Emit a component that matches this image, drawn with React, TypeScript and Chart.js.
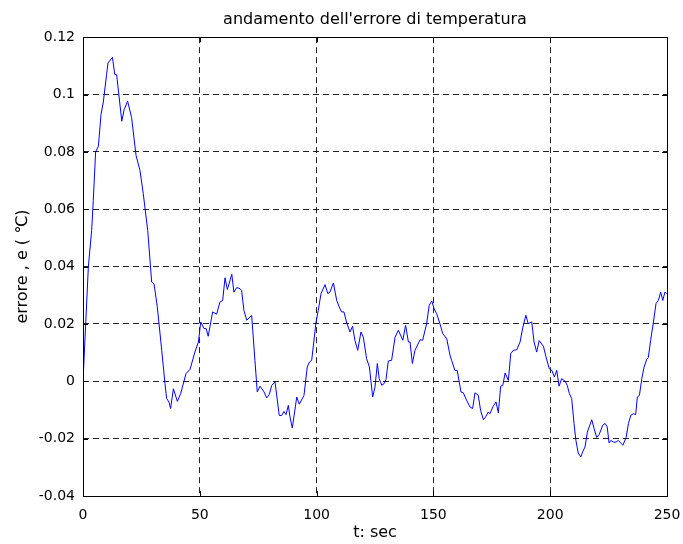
import React, { useEffect, useRef } from "react";
import { Chart, registerables } from "chart.js";

Chart.register(...registerables);

const titleText = "andamento dell'errore di temperatura";
const xTitle = "t: sec";
const yTitle = "errore , e ( ℃)";

const tValues = [
  0, 2.3, 3.7, 4.4, 5.4, 6.6, 7.7, 8.7, 10.1, 10.7, 12.6, 13.6, 14.4, 16.6, 17.6, 19.1, 20.8, 22.7, 24.4, 25.8,
  27.7, 29.4, 30.4, 31.8, 33.7, 35.1, 35.8, 36.8, 37.5, 38.7, 40.4, 41.8, 44.1, 45.8, 47.9, 49.4, 50.4, 51.8,
  52.7, 53.6, 55.5, 57.2, 58.6, 59.8, 60.8, 61.8, 63.7, 64.6, 65.8, 67.2, 67.9, 68.9, 70.1, 72.2, 73.6, 74.6,
  75.8, 77.5, 78.6, 79.8, 80.8, 82.2, 84.0, 85.1, 86.0, 86.9, 87.9, 88.6, 89.6, 91.5, 92.6, 94.6, 96.0, 96.9,
  97.9, 99.7, 100.7, 101.9, 103.6, 104.8, 105.7, 107.2, 108.6, 109.7, 110.7, 111.7, 112.9, 114.3, 115.4, 116.4,
  117.6, 119.0, 120.0, 121.4, 122.6, 124.0, 125.0, 126.0, 126.8, 127.9, 128.9, 129.7, 130.7, 132.1, 133.6, 135.0,
  136.9, 138.1, 139.3, 140.0, 141.0, 142.1, 144.3, 145.4, 147.1, 148.2, 149.3, 150.3, 151.4, 152.8, 154.0, 155.7,
  157.1, 157.8, 159.2, 160.2, 161.8, 162.8, 164.2, 165.7, 166.8, 167.8, 169.2, 170.2, 171.4, 172.5, 173.5, 174.2,
  175.6, 176.8, 177.8, 178.8, 179.7, 180.7, 182.1, 183.1, 184.2, 185.7, 187.1, 188.3, 189.6, 190.6, 192.1, 193.1,
  194.2, 195.3, 197.1, 198.2, 199.6, 200.7, 201.8, 202.8, 203.8, 204.9, 206.3, 207.3, 208.2, 209.2, 210.2, 211.0,
  212.0, 213.1, 213.9, 214.9, 215.9, 216.7, 217.8, 218.8, 219.9, 221.0, 222.5, 223.5, 224.4, 225.2, 226.0, 227.0,
  228.2, 229.2, 230.2, 231.1, 232.5, 233.5, 234.5, 235.6, 236.6, 237.3, 238.2, 239.2, 240.2, 241.3, 242.0, 243.0,
  244.2, 245.3, 246.3, 247.3, 248.2, 249.1, 249.9,
];

const errValues = [
  0, 0.04, 0.0526, 0.063, 0.08, 0.082, 0.093, 0.0974, 0.107, 0.111, 0.113, 0.107, 0.107, 0.0907, 0.0947, 0.0977,
  0.092, 0.0788, 0.0735, 0.0654, 0.0526, 0.0346, 0.034, 0.026, 0.0108, -0.0008, -0.006, -0.0072, -0.0095, -0.0026,
  -0.007, -0.0043, 0.0027, 0.0041, 0.0102, 0.0137, 0.0207, 0.0184, 0.0184, 0.0157, 0.0242, 0.0234, 0.0276, 0.0282,
  0.0361, 0.032, 0.0373, 0.0311, 0.0327, 0.0323, 0.0317, 0.0247, 0.0213, 0.023, 0.0073, -0.0037, -0.0017, -0.0037,
  -0.0058, -0.0045, -0.0014, -0.0002, -0.0119, -0.0119, -0.0105, -0.0116, -0.0084, -0.0124, -0.0163, -0.0055,
  -0.008, -0.0049, 0.005, 0.0067, 0.0073, 0.0203, 0.0247, 0.0306, 0.0337, 0.0306, 0.0311, 0.0343, 0.0282, 0.0259,
  0.0242, 0.0242, 0.0203, 0.0172, 0.0192, 0.0143, 0.0108, 0.0172, 0.0154, 0.0079, 0.005, -0.0055, -0.002, 0.0062,
  0.0009, -0.0014, -0.0008, 0.0006, 0.0071, 0.0073, 0.0154, 0.0178, 0.0143, 0.0195, 0.0137, 0.0137, 0.0062, 0.0108,
  0.0145, 0.0143, 0.0201, 0.0265, 0.028, 0.0253, 0.0236, 0.0201, 0.0166, 0.0149, 0.0091, 0.0073, 0.0038, 0.0038,
  -0.0037, -0.004, -0.0066, -0.009, -0.0095, -0.004, -0.0049, -0.0101, -0.0134, -0.0122, -0.0107, -0.0113, -0.0087,
  -0.0072, -0.011, -0.0017, -0.0014, 0.0029, 0.0003, 0.0096, 0.0108, 0.011, 0.0137, 0.0189, 0.023, 0.0201, 0.0207,
  0.0137, 0.0102, 0.0142, 0.0122, 0.0085, 0.0044, 0.0038, 0.0015, 0.0038, -0.0017, 0.0009, 0.0001, -0.0014, -0.0043,
  -0.006, -0.0147, -0.0206, -0.025, -0.0264, -0.0246, -0.0229, -0.0177, -0.0159, -0.0134, -0.0165, -0.0196, -0.0185,
  -0.0153, -0.0147, -0.0159, -0.0215, -0.0206, -0.0212, -0.0212, -0.0206, -0.0215, -0.0223, -0.0196, -0.0147,
  -0.0119, -0.0113, -0.0116, -0.0055, -0.0049, 0.0009, 0.005, 0.0076, 0.0083, 0.0143, 0.0207, 0.0271, 0.0282,
  0.0311, 0.0282, 0.0311, 0.0306,
];

const xMin = 0;
const xMax = 250;
const xStep = 50;
const yMin = -0.04;
const yMax = 0.12;
const yStep = 0.02;

const FONT = "'DejaVu Sans', sans-serif";

const boxPlugin = {
  id: "matlabBox",
  afterDraw(chart: any) {
    const { ctx, chartArea } = chart;
    const { left, right, top, bottom } = chartArea;
    const xs = chart.scales.x;
    const ys = chart.scales.y;
    ctx.save();
    ctx.strokeStyle = "#000";
    ctx.lineWidth = 1;
    ctx.setLineDash([]);
    ctx.beginPath();
    const tl = 5;
    xs.ticks.forEach((t: any) => {
      const px = Math.round(xs.getPixelForValue(t.value)) + 0.5;
      ctx.moveTo(px, bottom);
      ctx.lineTo(px, bottom - tl);
      ctx.moveTo(px, top);
      ctx.lineTo(px, top + tl);
    });
    ys.ticks.forEach((t: any) => {
      const py = Math.round(ys.getPixelForValue(t.value)) + 0.5;
      ctx.moveTo(left, py);
      ctx.lineTo(left + tl, py);
      ctx.moveTo(right, py);
      ctx.lineTo(right - tl, py);
    });
    ctx.stroke();
    ctx.strokeRect(Math.round(left) + 0.5, Math.round(top) + 0.5, Math.round(right - left), Math.round(bottom - top));
    ctx.restore();
  },
};

export default function App() {
  const ref = useRef<HTMLCanvasElement>(null);

  useEffect(() => {
    if (!ref.current) return;
    const points = tValues.map((t, i) => ({ x: t, y: errValues[i] }));
    const chart = new Chart(ref.current, {
      type: "line",
      data: {
        datasets: [
          {
            data: points,
            borderColor: "#0000ff",
            borderWidth: 1,
            pointRadius: 0,
            tension: 0,
            fill: false,
          },
        ],
      },
      options: {
        animation: false,
        responsive: false,
        devicePixelRatio: 1,
        layout: { padding: { left: 0, right: 16, top: 0, bottom: 0 } },
        plugins: {
          legend: { display: false },
          tooltip: { enabled: false },
          title: {
            display: true,
            fullSize: false,
            text: titleText,
            color: "#000",
            font: { family: FONT, size: 16, weight: "normal" },
            padding: { top: 10, bottom: 8 },
          },
        },
        scales: {
          x: {
            type: "linear",
            min: xMin,
            max: xMax,
            afterFit: (s: any) => {
              s.height = 48;
              s.paddingLeft = 0;
              s.paddingRight = 0;
            },
            ticks: {
              stepSize: xStep,
              color: "#000",
              padding: 11,
              maxRotation: 0,
              font: { family: FONT, size: 14 },
            },
            grid: {
              drawTicks: false,
              color: "#222",
              lineWidth: 1,
            },
            border: { display: false, dash: [6, 4] },
            title: {
              display: true,
              text: xTitle,
              color: "#000",
              font: { family: FONT, size: 16 },
              padding: { top: 0, bottom: 1.5 },
            },
          },
          y: {
            type: "linear",
            min: yMin,
            max: yMax,
            afterFit: (s: any) => {
              s.width = 83;
              s.paddingTop = 0;
              s.paddingBottom = 0;
            },
            ticks: {
              stepSize: yStep,
              color: "#000",
              padding: 8,
              font: { family: FONT, size: 14 },
              callback: (v: any) => String(Number(Number(v).toFixed(2))),
            },
            grid: {
              drawTicks: false,
              color: "#222",
              lineWidth: 1,
            },
            border: { display: false, dash: [6, 4] },
            title: {
              display: true,
              text: yTitle,
              color: "#000",
              font: { family: FONT, size: 16 },
              padding: { top: 13, bottom: 0 },
            },
          },
        },
      },
      plugins: [boxPlugin],
    });
    return () => chart.destroy();
  }, []);

  return (
    <div style={{ position: "absolute", left: 0, top: 0, width: 683, height: 544, background: "#fff" }}>
      <canvas ref={ref} width={683} height={544} style={{ display: "block", width: 683, height: 544 }} />
    </div>
  );
}
